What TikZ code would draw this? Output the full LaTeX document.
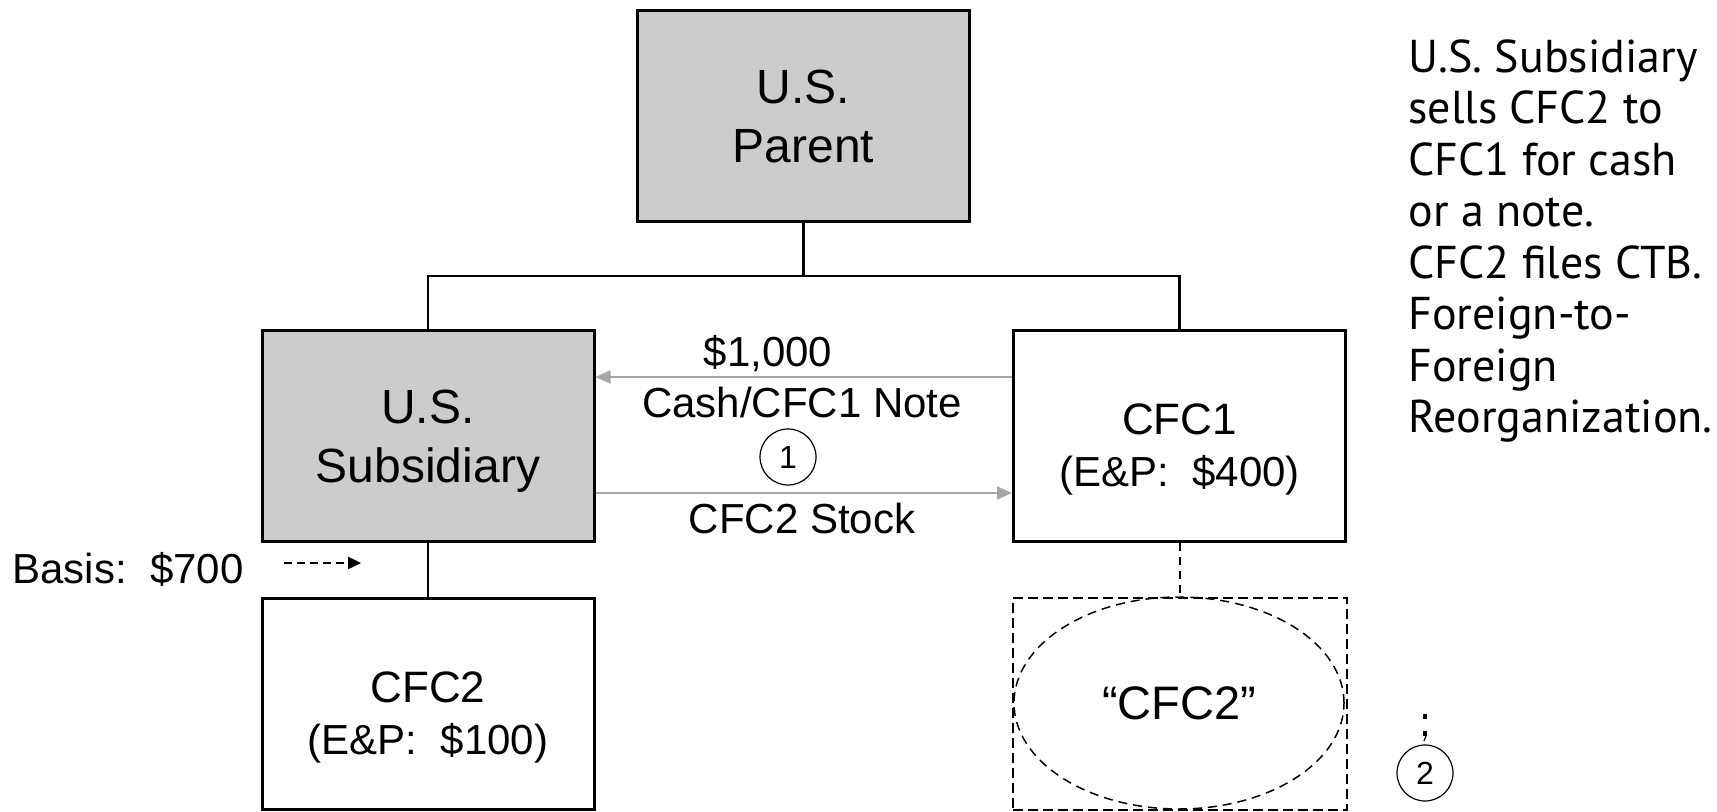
\documentclass[tikz,border=0pt]{standalone}
\usepackage{fontspec}
\setmainfont{Liberation Sans}
\newfontfamily\notefont{PT Sans}
\usetikzlibrary{arrows.meta, shapes.geometric, positioning, calc}
\definecolor{boxgray}{HTML}{CCCCCC}
\definecolor{flowgray}{HTML}{A6A6A6}

\begin{document}
\begin{tikzpicture}[x=0.5pt, y=-0.5pt,
    entity/.style={rectangle, draw=black, line width=1.5pt, minimum width=166pt, minimum height=105.5pt, align=center, inner sep=0pt},
    usco/.style={entity, fill=boxgray, font=\fontsize{24}{29.5}\selectfont, text depth=-1.5pt},
    cfco/.style={entity, fill=white, font=\fontsize{22}{26}\selectfont, text depth=0pt},
    tree/.style={line width=1.25pt},
    flow/.style={flowgray, line width=1pt, -{Triangle[length=7.5pt, width=6.5pt]}},
    stepno/.style={circle, draw, line width=0.6pt, minimum size=28pt, inner sep=0pt, font=\fontsize{16}{16}\selectfont},
    lbl/.style={inner sep=0pt, font=\fontsize{21}{25}\selectfont}]

  \useasboundingbox (0,0) rectangle (1717,812);

  \node[usco] (parent) at (803.5,116) {U.S.\\Parent};
  \node[usco] (sub) at (428,436) {U.S.\\Subsidiary};
  \node[cfco] (cfc1) at (1179.5,436) {\rule{0pt}{24pt}CFC1\\{\fontsize{21}{26}\selectfont(E\&P:\ \ \$400)}};
  \node[cfco] (cfc2) at (428,704) {\rule{0pt}{24pt}CFC2\\{\fontsize{21}{26}\selectfont(E\&P:\ \ \$100)}};
  \node[rectangle, draw, line width=1pt, dash pattern=on 5pt off 2.5pt, minimum width=167pt, minimum height=106pt] (newbox) at (1179.5,704) {};
  \node[ellipse, draw, line width=0.75pt, dash pattern=on 4.5pt off 3pt, minimum width=165pt, minimum height=106pt, inner sep=0pt, font=\fontsize{23.5}{28}\selectfont] (newcfc2) at (1179,703) {“CFC2”};

  \coordinate (bus) at (parent.south |- 0,276);
  \draw[tree] (parent.south) -- (bus);
  \draw[tree] (sub.north) |- (bus) -| (cfc1.north);
  \draw[tree] (sub.south) -- (cfc2.north);
  \draw[line width=1pt, dash pattern=on 4pt off 3pt] (cfc1.south) -- (newbox.north);

  \draw[flow] ([yshift=29.5pt]cfc1.west) -- ([yshift=29.5pt]sub.east);
  \draw[flow] ([yshift=-28.5pt]sub.east) -- ([yshift=-28.5pt]cfc1.west);

  \node[lbl, anchor=base] (price) at (768,366) {\$1,000};
  \node[lbl, anchor=base] (consid) at (802,417) {Cash/CFC1 Note};
  \node[stepno] (one) at (788,457) {1};
  \node[lbl, anchor=base] (stock) at (802,533) {CFC2 Stock};

  \node[lbl, anchor=base west] (basis) at (12,583) {Basis:\ \ \$700};
  \coordinate (basisstart) at ([xshift=20pt]basis.east);
  \coordinate (basisend) at (361,563);
  \draw[line width=1.2pt, dash pattern=on 4pt off 2.5pt, -{Triangle[length=6.5pt, width=6pt]}] (basisstart |- basisend) -- (basisend);

  \node[stepno] (two) at (1425,773) {2};
  \fill (1423,714) rectangle (1427,719);
  \fill (1423,731) rectangle (1427,736);
  \draw[line width=0.6pt] (1426,736) -- (1424,741);

  \node[anchor=north west, align=left, inner sep=0pt, font=\notefont\fontsize{23}{25.75}\selectfont] (note) at (1408,39)
    {U.S. Subsidiary\\sells CFC2 to\\CFC1 for cash\\or a note.\\CFC2 files CTB.\\Foreign-to-\\Foreign\\Reorganization.};
\end{tikzpicture}
\end{document}
